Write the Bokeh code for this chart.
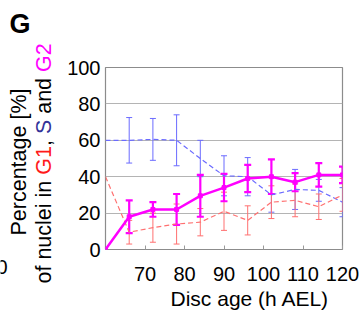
import math
from bokeh.plotting import figure
from bokeh.layouts import row, column
from bokeh.models import ColumnDataSource, Whisker, TeeHead, FixedTicker, Range1d
from bokeh.core.properties import value
from bokeh.embed import file_html
from bokeh.resources import INLINE

# ---- data ----
ages = [60, 66, 72, 78, 84, 90, 96, 102, 108, 114, 120]
g1 = [40, 9.5, 12, 14, 15, 21, 16, 26, 27, 23.5, 30]
s_phase = [60, 60, 60.5, 60, 50, 40.5, 40, 30, 33, 32.5, 26]
g2 = [0, 18, 22, 22, 29.5, 34, 39, 40, 37, 41, 41]
g1_err = [0, 6.5, 8, 11, 7.5, 10.5, 8, 9, 9, 7, 9]
s_err = [0, 12.5, 11.5, 14, 10, 11, 10.5, 9.5, 11, 6, 8]
g2_err = [0, 9, 4, 8.5, 11.5, 7.5, 7.5, 9.5, 5, 6.5, 4.5]
x_ticks = [70, 80, 90, 100, 110, 120]
y_ticks = [0, 20, 40, 60, 80, 100]

FONT = "Liberation Sans"
TOTAL_W, TOTAL_H = 364, 313
LEFT_W = 62          # left strip with the y title
MAIN_H = 291         # main chart height; x title strip below
FRAME_L, FRAME_R, FRAME_T, FRAME_B = 105, 342, 67, 249   # page px

BLUE = "#6b6bff"
RED = "#ff7070"
MAG = "#ff00ff"

# ---------------- main chart ----------------
main_w = TOTAL_W - LEFT_W
p = figure(width=main_w, height=MAIN_H, output_backend="svg", toolbar_location=None,
           title=None,
           x_range=Range1d(60, 120), y_range=Range1d(0, 100),
           min_border_left=FRAME_L - LEFT_W, min_border_right=TOTAL_W - FRAME_R,
           min_border_top=FRAME_T, min_border_bottom=MAIN_H - FRAME_B)
p.outline_line_color = "#8c8c8c"
p.outline_line_width = 1.2

p.xaxis.ticker = FixedTicker(ticks=x_ticks)
p.yaxis.ticker = FixedTicker(ticks=y_ticks)
for ax in (p.xaxis[0], p.yaxis[0]):
    ax.axis_line_color = None
    ax.major_label_text_font = FONT
    ax.major_label_text_font_size = "20px"
    ax.major_label_text_color = "black"
    ax.minor_tick_line_color = None
p.xaxis.major_tick_in = 4
p.xaxis.major_tick_out = 0
p.xaxis.major_tick_line_color = "#9a9a9a"
p.xaxis.major_label_standoff = 17
p.yaxis.major_tick_in = 0
p.yaxis.major_tick_out = 0
p.yaxis.major_label_standoff = 5
p.xgrid.grid_line_color = None
p.ygrid.grid_line_color = "#b4b4b4"
p.ygrid.grid_line_width = 1

src = ColumnDataSource(dict(x=ages, g1=g1, s=s_phase, g2=g2))
err = dict(
    x=ages[1:],
    g1_lo=[a - b for a, b in zip(g1, g1_err)][1:], g1_hi=[a + b for a, b in zip(g1, g1_err)][1:],
    s_lo=[a - b for a, b in zip(s_phase, s_err)][1:], s_hi=[a + b for a, b in zip(s_phase, s_err)][1:],
    g2_lo=[a - b for a, b in zip(g2, g2_err)][1:], g2_hi=[a + b for a, b in zip(g2, g2_err)][1:],
)
err_src = ColumnDataSource(err)

def whisk(lo, hi, color, width, size):
    p.add_layout(Whisker(base="x", lower=lo, upper=hi, source=err_src,
                         line_color=color, line_width=width,
                         upper_head=TeeHead(size=size, line_color=color, line_width=width),
                         lower_head=TeeHead(size=size, line_color=color, line_width=width)))

whisk("s_lo", "s_hi", BLUE, 1, 6)
p.line("x", "s", source=src, line_color=BLUE, line_width=1.2, line_dash="5 3")
whisk("g1_lo", "g1_hi", RED, 1, 6)
p.line("x", "g1", source=src, line_color=RED, line_width=1.2, line_dash="5 3")
whisk("g2_lo", "g2_hi", MAG, 2.2, 7)
p.line("x", "g2", source=src, line_color=MAG, line_width=2.5)
p.scatter("x", "g2", source=src, marker="square", size=4, color=MAG)

# ---------------- text strips ----------------
def text_fig(w, h, x0, y0):
    f = figure(width=w, height=h, output_backend="svg", toolbar_location=None,
               title=None, x_axis_type=None, y_axis_type=None,
               x_range=Range1d(x0, x0 + w), y_range=Range1d(y0 + h, y0),
               min_border=0, min_border_left=0, min_border_right=0,
               min_border_top=0, min_border_bottom=0)
    f.outline_line_color = None
    f.xgrid.visible = False
    f.ygrid.visible = False
    return f

SHIFT = 0.4  # baseline correction (em)

def txt(f, s, x, y, size, color="black", align="left", angle=0.0, style="normal"):
    if angle == 0.0:
        y = y - SHIFT * size
    else:
        x = x - SHIFT * size
    f.text(x=[x], y=[y], text=[s], text_font=value(FONT), text_font_size=f"{size}px",
           text_color=color, text_align=align, text_baseline="alphabetic",
           angle=angle, text_font_style=style)

pl = text_fig(LEFT_W, TOTAL_H, 0, 0)
txt(pl, "G", 9, 34, 27, style="bold")
txt(pl, "0", 7, 274, 20, align="right")
YS = 21.5
txt(pl, "Percentage [%]", 27.5, 161.5, YS, align="center", angle=math.pi / 2)

# (text, colour, advance in em including the following space)
segs = [("of nuclei in", "black", 5.058), ("G1", "#ff1a1a", 1.334), (",", "black", 0.556),
        ("S", "#333399", 0.945), ("and", "black", 1.946), ("G2", MAG, 1.334)]
ypos = 283.0
for t, c, em in segs:
    txt(pl, t, 52, ypos, YS, color=c, angle=math.pi / 2)
    ypos -= em * YS

pb = text_fig(main_w, TOTAL_H - MAIN_H, LEFT_W, MAIN_H)
txt(pb, "Disc age (h AEL)", 246, 306, 21, align="center")

layout = row(pl, column(p, pb, spacing=0), spacing=0)
open("out.html", "w").write(file_html(layout, INLINE))
